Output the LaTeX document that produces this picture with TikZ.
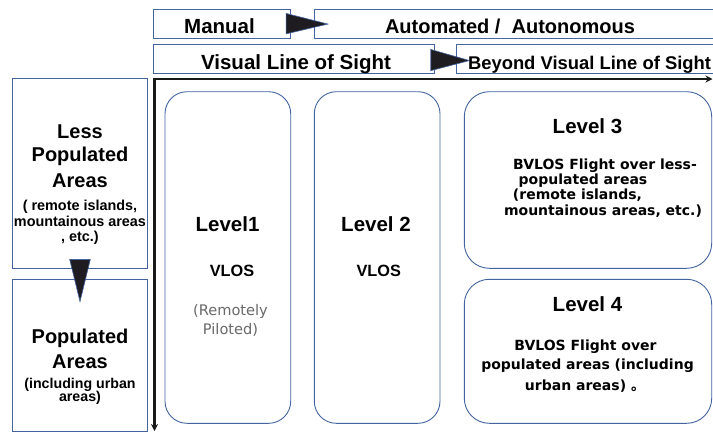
\documentclass[tikz,border=0pt]{standalone}
\usepackage{fontspec}
\setmainfont{Liberation Sans}
\newfontfamily\djv{DejaVu Sans}
\newfontfamily\cjk{Noto Sans CJK JP}
\usetikzlibrary{calc,arrows.meta}
\definecolor{bblue}{RGB}{68,100,160}
\definecolor{trifill}{RGB}{30,28,32}
\definecolor{axisc}{RGB}{25,25,25}
\definecolor{greytxt}{RGB}{105,105,105}
\begin{document}
\begin{tikzpicture}[x=1pt,y=-1pt,
  sqbox/.style={draw=bblue,line width=0.9pt,inner sep=0pt},
  lvlbox/.style={draw=bblue,line width=0.9pt,inner sep=0pt,rounded corners=22pt},
  bigtri/.style={fill=trifill,draw=bblue,line width=0.6pt,line join=miter},
  axisline/.style={draw=axisc,line width=2.6pt,line cap=rect,-{Stealth[length=7pt,width=7pt]}},
  ttl/.style={font=\bfseries\fontsize{20.5}{24}\selectfont,anchor=base,inner sep=0pt},
  subttl/.style={font=\bfseries\fontsize{18.4}{22}\selectfont,anchor=base,inner sep=0pt},
  sml/.style={font=\bfseries\fontsize{14.4}{17}\selectfont,anchor=base,inner sep=0pt},
  vl/.style={font=\bfseries\fontsize{16.3}{19}\selectfont,anchor=base,inner sep=0pt},
  desc/.style={font=\djv\bfseries\fontsize{14}{17}\selectfont,anchor=base,inner sep=0pt},
  grey/.style={font=\djv\fontsize{14.6}{17}\selectfont,text=greytxt,anchor=base,inner sep=0pt}
]
\clip (0,0) rectangle (713,432);
\fill[white] (0,0) rectangle (713,432);

% boxes
\node[sqbox,minimum width=136.7pt,minimum height=29.3pt] (manual) at (221.65,23.65) {};
\node[sqbox,minimum width=405.7pt,minimum height=29.3pt] (auto) at (517.15,23.65) {};
\node[sqbox,minimum width=280.7pt,minimum height=29.5pt] (vlos) at (293.65,58.75) {};
\node[sqbox,minimum width=264pt,minimum height=29.5pt] (bvlos) at (588,58.75) {};
\node[sqbox,minimum width=134.6pt,minimum height=189.7pt] (less) at (80,173.15) {};
\node[sqbox,minimum width=134.6pt,minimum height=152pt] (pop) at (80,355) {};
\node[lvlbox,minimum width=125.7pt,minimum height=331.6pt] (lv1) at (227.85,257.5) {};
\node[lvlbox,minimum width=125.7pt,minimum height=331.6pt] (lv2) at (377.15,257.5) {};
\node[lvlbox,rounded corners=25pt,minimum width=247.4pt,minimum height=176.6pt] (lv3) at (588,180) {};
\node[lvlbox,rounded corners=25pt,minimum width=247.4pt,minimum height=144pt] (lv4) at (588,351.3) {};

% big arrows
\filldraw[bigtri] ($(manual.east)+(-4.3,-10.2)$) -- ($(manual.east)+(-4.3,10.2)$) -- ($(auto.west)+(14,0.4)$) -- cycle;
\filldraw[bigtri] ($(vlos.east)+(-3.7,-9.3)$) -- ($(vlos.east)+(-3.7,11.9)$) -- ($(bvlos.west)+(13.9,1.8)$) -- cycle;
\filldraw[bigtri] ($(less.south)+(-10.3,-9)$) -- ($(less.south)+(10.3,-9)$) -- ($(pop.north)+(0,23)$) -- cycle;

% axes
\coordinate (org) at (154.5,79);
\coordinate (xend) at (712.5,79);
\coordinate (yend) at (154.5,431);
\draw[axisline] (org) -- (xend);
\draw[axisline] (org) -- (yend);

% top texts
\node[ttl] (tmanual) at (219.5,33.3) {Manual};
\node[ttl,font=\bfseries\fontsize{20}{24}\selectfont] (tauto) at (510,33.3) {Automated /\ \ Autonomous};
\node[ttl] (tvlos) at (296,69) {Visual Line of Sight};
\node[subttl] (tbvlos) at (589.5,69) {Beyond Visual Line of Sight};

% left texts
\node[ttl,font=\bfseries\fontsize{20}{24}\selectfont] (tless1) at (80,138.3) {Less};
\node[ttl,font=\bfseries\fontsize{20}{24}\selectfont] (tless2) at (80,161.5) {Populated};
\node[ttl,font=\bfseries\fontsize{20}{24}\selectfont] (tless3) at (80,187.5) {Areas};
\node[sml] (tless4) at (80,210) {(\ remote islands,};
\node[sml] (tless5) at (80,226.5) {mountainous areas};
\node[sml] (tless6) at (80,241.5) {, etc.)};

\node[ttl,font=\bfseries\fontsize{20}{24}\selectfont] (tpop1) at (80,343.3) {Populated};
\node[ttl,font=\bfseries\fontsize{20}{24}\selectfont] (tpop2) at (80,368.3) {Areas};
\node[sml,font=\bfseries\fontsize{14.2}{17}\selectfont] (tpop3) at (80,388.3) {(including urban};
\node[sml,font=\bfseries\fontsize{14.2}{17}\selectfont] (tpop4) at (80,401.5) {areas)};

% level 1 & 2
\node[ttl] (tl1) at (227.5,231.7) {Level1};
\node[vl] (tl1v) at (232,276.7) {VLOS};
\node[grey] (tl1r1) at (230.5,315) {(Remotely};
\node[grey] (tl1r2) at (230.5,334) {Piloted)};
\node[ttl] (tl2) at (376,231.7) {Level 2};
\node[vl] (tl2v) at (378.7,276.7) {VLOS};

% level 3
\node[ttl] (tl3) at (587.5,133.3) {Level 3};
\node[desc] (tl3a) at (605,169.3) {BVLOS Flight over less-};
\node[desc] (tl3b) at (583,184.5) {populated areas};
\node[desc] (tl3c) at (577.5,199.8) {(remote islands,};
\node[desc] (tl3d) at (603,215) {mountainous areas, etc.)};

% level 4
\node[ttl] (tl4) at (587.5,311.7) {Level 4};
\node[desc] (tl4a) at (585.5,350) {BVLOS Flight over};
\node[desc] (tl4b) at (587.5,369.5) {populated areas (including};
\node[desc] (tl4c) at (585,390) {urban areas) {\cjk\bfseries 。}};
\end{tikzpicture}
\end{document}
